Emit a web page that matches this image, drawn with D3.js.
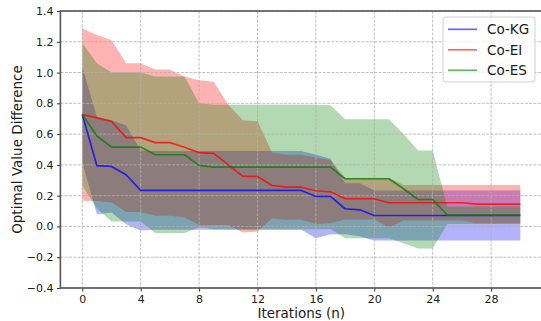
<!DOCTYPE html>
<html>
<head>
<meta charset="utf-8">
<script src="https://cdn.jsdelivr.net/npm/d3@7"></script>
<style>
  html, body { margin: 0; padding: 0; background: #fff; }
  text { font-family: "DejaVu Sans", sans-serif; fill: #1a1a1a; }
</style>
</head>
<body>
<svg id="chart" width="541" height="321"></svg>
<script>
// Iteration index shared by all three methods
const iterations = [0, 1, 2, 3, 4, 5, 6, 7, 8, 9, 10, 11, 12, 13, 14, 15,
  16, 17, 18, 19, 20, 21, 22, 23, 24, 25, 26, 27, 28, 29, 30];

// Co-KG: mean optimal value difference and its spread
const kgMean = [0.727, 0.395, 0.390, 0.336, 0.234, 0.234, 0.234, 0.234, 0.234, 0.234, 0.234,
  0.234, 0.234, 0.234, 0.234, 0.234, 0.195, 0.195, 0.115, 0.108, 0.071,
  0.071, 0.071, 0.071, 0.071, 0.071, 0.071, 0.071, 0.071, 0.071, 0.071];
const kgStd = [0.310, 0.316, 0.300, 0.321, 0.260, 0.256, 0.256, 0.256, 0.256, 0.256, 0.256,
  0.256, 0.256, 0.256, 0.256, 0.256, 0.271, 0.245, 0.165, 0.172, 0.163,
  0.163, 0.163, 0.163, 0.163, 0.163, 0.163, 0.163, 0.163, 0.163, 0.163];

// Co-EI
const eiMean = [0.727, 0.705, 0.683, 0.577, 0.577, 0.545, 0.545, 0.515, 0.480, 0.475, 0.400,
  0.325, 0.325, 0.266, 0.255, 0.255, 0.232, 0.225, 0.180, 0.180, 0.180,
  0.154, 0.154, 0.154, 0.154, 0.154, 0.154, 0.145, 0.145, 0.145, 0.145];
const eiStd = [0.560, 0.539, 0.527, 0.483, 0.483, 0.475, 0.475, 0.457, 0.470, 0.465, 0.390,
  0.365, 0.358, 0.214, 0.211, 0.211, 0.216, 0.205, 0.135, 0.135, 0.135,
  0.161, 0.116, 0.116, 0.116, 0.116, 0.116, 0.125, 0.125, 0.125, 0.125];

// Co-ES
const esMean = [0.727, 0.588, 0.516, 0.516, 0.516, 0.466, 0.466, 0.466, 0.397, 0.386, 0.386,
  0.386, 0.386, 0.386, 0.386, 0.386, 0.386, 0.386, 0.310, 0.310, 0.310,
  0.310, 0.245, 0.175, 0.175, 0.073, 0.073, 0.073, 0.073, 0.073, 0.073];
const esStd = [0.463, 0.472, 0.484, 0.484, 0.484, 0.509, 0.509, 0.509, 0.403, 0.404, 0.404,
  0.404, 0.404, 0.404, 0.404, 0.404, 0.404, 0.402, 0.386, 0.386, 0.386,
  0.386, 0.355, 0.319, 0.319, 0.057, 0.057, 0.057, 0.057, 0.057, 0.057];

const seriesNames = ["Co-KG", "Co-EI", "Co-ES"];
const seriesColors = ["#0000ff", "#ff0000", "#008000"];

const xTicks = [0, 4, 8, 12, 16, 20, 24, 28];
const yTicks = [-0.4, -0.2, 0.0, 0.2, 0.4, 0.6, 0.8, 1.0, 1.2, 1.4];

const xLabel = "Iterations (n)";
const yLabel = "Optimal Value Difference";

const series = [
  { name: seriesNames[0], color: seriesColors[0], mean: kgMean, std: kgStd },
  { name: seriesNames[1], color: seriesColors[1], mean: eiMean, std: eiStd },
  { name: seriesNames[2], color: seriesColors[2], mean: esMean, std: esStd }
];

const svg = d3.select("#chart");
const plot = { left: 60.4, right: 542.2, top: 11, bottom: 288 };

const x = d3.scaleLinear().domain([-1.5, 31.5]).range([plot.left, plot.right]);
const y = d3.scaleLinear().domain([-0.4, 1.4]).range([plot.bottom, plot.top]);

// Shaded mean ± std bands
const bandLayer = svg.append("g");
series.forEach(s => {
  const area = d3.area()
    .x((d, i) => x(iterations[i]))
    .y0((d, i) => y(s.mean[i] - s.std[i]))
    .y1((d, i) => y(s.mean[i] + s.std[i]));
  bandLayer.append("path")
    .attr("d", area(s.mean))
    .attr("fill", s.color)
    .attr("fill-opacity", 0.3);
});

// Dashed grid
const grid = svg.append("g")
  .attr("stroke", "#b0b0b0")
  .attr("stroke-width", 0.8)
  .attr("stroke-dasharray", "3,1.3");
xTicks.forEach(t => grid.append("line")
  .attr("x1", x(t)).attr("x2", x(t)).attr("y1", plot.top).attr("y2", plot.bottom));
yTicks.forEach(t => grid.append("line")
  .attr("x1", plot.left).attr("x2", plot.right).attr("y1", y(t)).attr("y2", y(t)));

// Mean curves
const lineLayer = svg.append("g");
series.forEach(s => {
  const line = d3.line()
    .x((d, i) => x(iterations[i]))
    .y(d => y(d));
  lineLayer.append("path")
    .attr("d", line(s.mean))
    .attr("fill", "none")
    .attr("stroke", s.color)
    .attr("stroke-opacity", 0.75)
    .attr("stroke-width", 1.7)
    .attr("stroke-linejoin", "round");
});

// Axes
const fmt = d3.format(".1f");
const xAxis = svg.append("g")
  .attr("transform", `translate(0,${plot.bottom})`)
  .call(d3.axisBottom(x).tickValues(xTicks).tickSize(3.5).tickPadding(3.5).tickFormat(d3.format("d")));
const yAxis = svg.append("g")
  .attr("transform", `translate(${plot.left},0)`)
  .call(d3.axisLeft(y).tickValues(yTicks).tickSize(3.5).tickPadding(3.5).tickFormat(fmt));

[xAxis, yAxis].forEach(a => {
  a.select(".domain").remove();
  a.selectAll(".tick line").attr("stroke", "#333").attr("stroke-width", 1);
  a.selectAll(".tick text")
    .style("font-family", '"DejaVu Sans", sans-serif')
    .style("font-size", "11px")
    .attr("fill", "#1a1a1a");
});

// Frame
svg.append("rect")
  .attr("x", plot.left).attr("y", plot.top)
  .attr("width", plot.right - plot.left).attr("height", plot.bottom - plot.top)
  .attr("fill", "none")
  .attr("stroke", "#555")
  .attr("stroke-width", 1.6);

// Axis titles
svg.append("text")
  .attr("x", (plot.left + plot.right) / 2)
  .attr("y", 318)
  .attr("text-anchor", "middle")
  .style("font-size", "13.5px")
  .text(xLabel);

svg.append("text")
  .attr("transform", `translate(22,${(plot.top + plot.bottom) / 2}) rotate(-90)`)
  .attr("text-anchor", "middle")
  .style("font-size", "13.5px")
  .text(yLabel);

// Legend
const legend = svg.append("g").attr("transform", "translate(443,17)");
legend.append("rect")
  .attr("width", 92).attr("height", 65)
  .attr("rx", 3)
  .attr("fill", "#fff").attr("fill-opacity", 0.8)
  .attr("stroke", "#d0d0d0").attr("stroke-width", 1);
series.forEach((s, i) => {
  const cy = 12.3 + i * 20.5;
  legend.append("line")
    .attr("x1", 5).attr("x2", 34).attr("y1", cy).attr("y2", cy)
    .attr("stroke", s.color).attr("stroke-opacity", 0.6).attr("stroke-width", 1.7);
  legend.append("text")
    .attr("x", 44).attr("y", cy + 5)
    .style("font-size", "13.5px")
    .text(s.name);
});
</script>
</body>
</html>
